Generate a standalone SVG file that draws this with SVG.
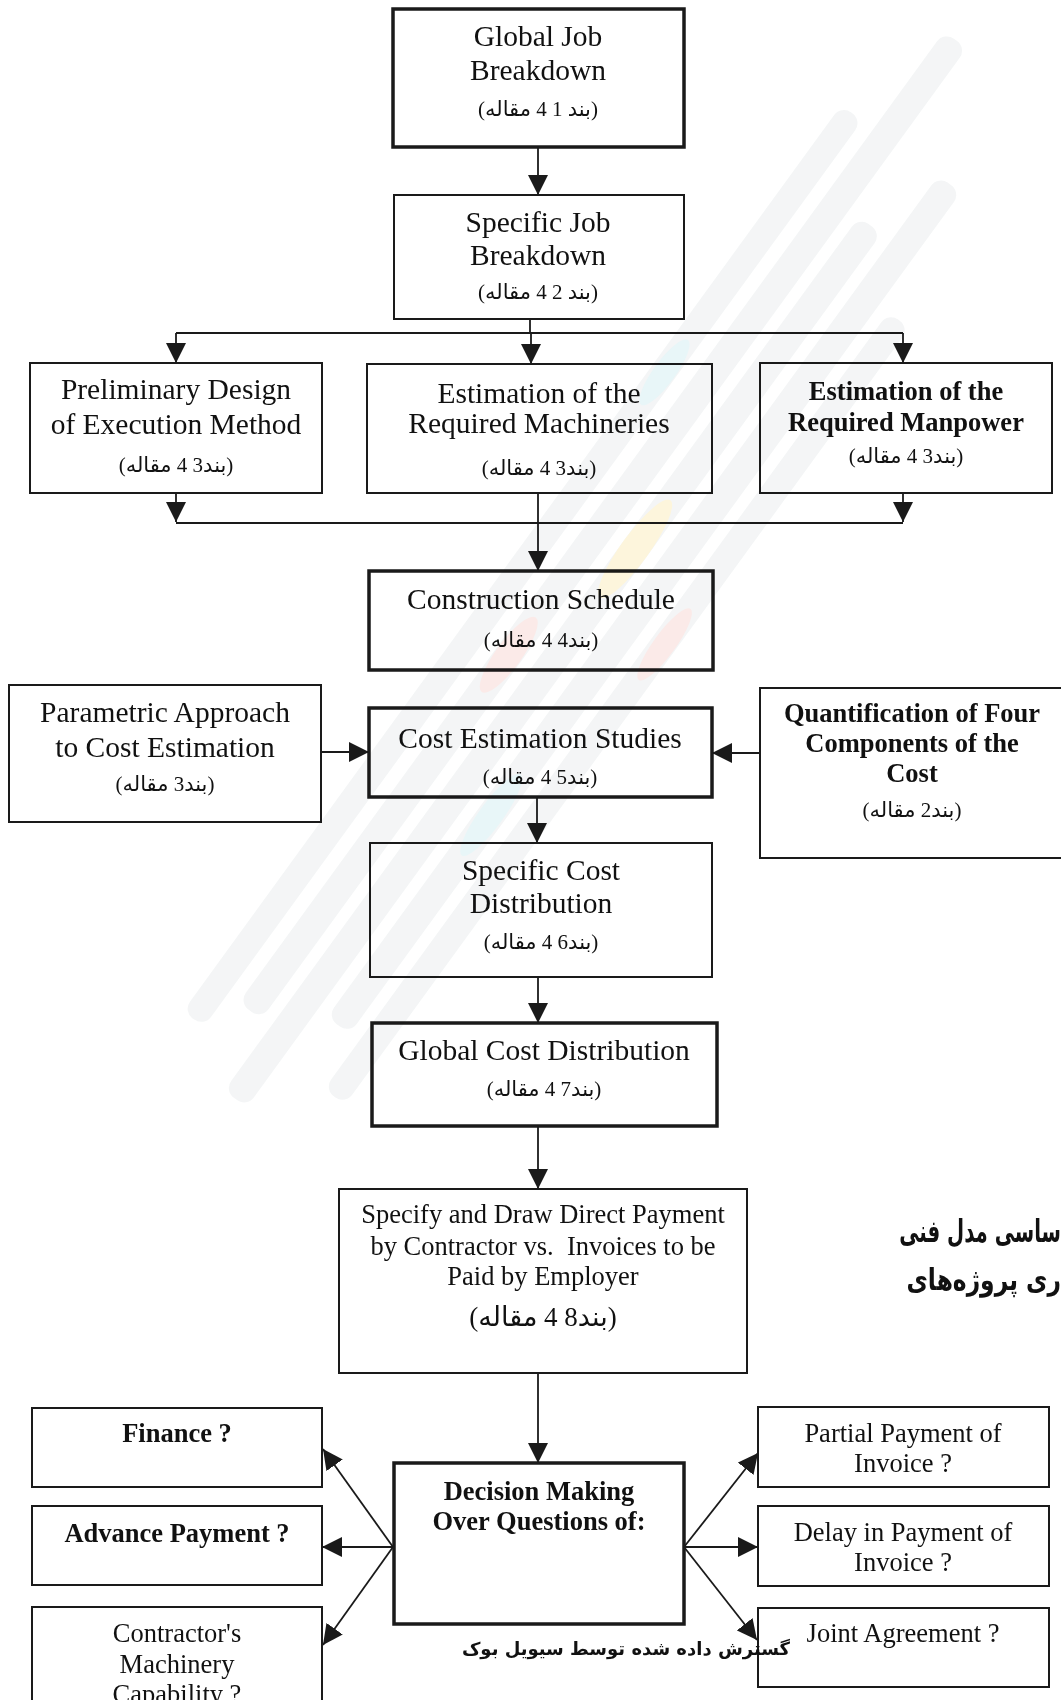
<svg xmlns="http://www.w3.org/2000/svg" width="1061" height="1700" viewBox="0 0 1061 1700">
  <style>
    .box { fill: #ffffff; stroke: #1a1a1a; stroke-width: 2; }
    .thick { stroke-width: 3.5; }
    .t { font-family: "Liberation Serif", "Times New Roman", serif; font-size: 29.5px; fill: #111; text-anchor: middle; }
    .s { font-size: 26.5px; }
    .b { font-weight: bold; }
    .fa { font-family: "Liberation Serif", "DejaVu Sans", serif; font-size: 21px; fill: #111; text-anchor: middle; }
    .fa-l { font-size: 27px; }
    .wire { fill: none; stroke: #1a1a1a; stroke-width: 1.8; }
    .arrow { marker-end: url(#head); }
    .note { font-family: "DejaVu Sans", sans-serif; fill: #111; }
    .pencil { fill: #eceff0; }
  </style>
  <defs>
    <marker id="head" viewBox="0 0 20 20" refX="20" refY="10" markerWidth="20" markerHeight="20" markerUnits="userSpaceOnUse" orient="auto">
      <path d="M0,0 L20,10 L0,20 Z" fill="#1a1a1a"/>
    </marker>
  </defs>
  <rect width="1061" height="1700" fill="#ffffff"/>

  <!-- connectors -->
  <g id="connectors">
    <line class="wire arrow" x1="538" y1="147" x2="538" y2="195"/>
    <line class="wire" x1="530" y1="319" x2="530" y2="333"/>
    <line class="wire" x1="176" y1="333" x2="903" y2="333"/>
    <line class="wire arrow" x1="176" y1="333" x2="176" y2="363"/>
    <line class="wire arrow" x1="531" y1="333" x2="531" y2="364"/>
    <line class="wire arrow" x1="903" y1="333" x2="903" y2="363"/>
    <line class="wire arrow" x1="176" y1="493" x2="176" y2="522"/>
    <line class="wire arrow" x1="903" y1="493" x2="903" y2="522"/>
    <line class="wire" x1="176" y1="523" x2="903" y2="523"/>
    <line class="wire arrow" x1="538" y1="493" x2="538" y2="571"/>
    <line class="wire arrow" x1="321" y1="752" x2="369" y2="752"/>
    <line class="wire arrow" x1="760" y1="753" x2="712" y2="753"/>
    <line class="wire arrow" x1="537" y1="797" x2="537" y2="843"/>
    <line class="wire arrow" x1="538" y1="977" x2="538" y2="1023"/>
    <line class="wire arrow" x1="538" y1="1126" x2="538" y2="1189"/>
    <line class="wire arrow" x1="538" y1="1373" x2="538" y2="1463"/>
    <line class="wire arrow" x1="393" y1="1547" x2="323" y2="1449"/>
    <line class="wire arrow" x1="393" y1="1547" x2="322" y2="1547"/>
    <line class="wire arrow" x1="393" y1="1547" x2="323" y2="1645"/>
    <line class="wire arrow" x1="684" y1="1547" x2="758" y2="1453"/>
    <line class="wire arrow" x1="684" y1="1547" x2="758" y2="1547"/>
    <line class="wire arrow" x1="684" y1="1547" x2="757" y2="1640"/>
  </g>

  <g id="global-job">
    <rect class="box thick" x="393" y="9" width="291" height="138"/>
    <text class="t" x="538" y="46">Global Job</text>
    <text class="t" x="538" y="80">Breakdown</text>
    <text class="fa" x="538" y="116">(بند 1 4 مقاله)</text>
  </g>
  <g id="specific-job">
    <rect class="box" x="394" y="195" width="290" height="124"/>
    <text class="t" x="538" y="232">Specific Job</text>
    <text class="t" x="538" y="265">Breakdown</text>
    <text class="fa" x="538" y="299">(بند 2 4 مقاله)</text>
  </g>
  <g id="preliminary-design">
    <rect class="box" x="30" y="363" width="292" height="130"/>
    <text class="t" x="176" y="399">Preliminary Design</text>
    <text class="t" x="176" y="434">of Execution Method</text>
    <text class="fa" x="176" y="472">(بند3 4 مقاله)</text>
  </g>
  <g id="machineries">
    <rect class="box" x="367" y="364" width="345" height="129"/>
    <text class="t" x="539" y="403">Estimation of the</text>
    <text class="t" x="539" y="433">Required Machineries</text>
    <text class="fa" x="539" y="475">(بند3 4 مقاله)</text>
  </g>
  <g id="manpower">
    <rect class="box" x="760" y="363" width="292" height="130"/>
    <text class="t s b" x="906" y="400">Estimation of the</text>
    <text class="t s b" x="906" y="431">Required Manpower</text>
    <text class="fa" x="906" y="463">(بند3 4 مقاله)</text>
  </g>
  <g id="construction-schedule">
    <rect class="box thick" x="369" y="571" width="344" height="99"/>
    <text class="t" x="541" y="609">Construction Schedule</text>
    <text class="fa" x="541" y="647">(بند4 4 مقاله)</text>
  </g>
  <g id="parametric-approach">
    <rect class="box" x="9" y="685" width="312" height="137"/>
    <text class="t" x="165" y="722">Parametric Approach</text>
    <text class="t" x="165" y="757">to Cost Estimation</text>
    <text class="fa" x="165" y="791">(بند3 مقاله)</text>
  </g>
  <g id="cost-studies">
    <rect class="box thick" x="369" y="708" width="343" height="89"/>
    <text class="t" x="540" y="748">Cost Estimation Studies</text>
    <text class="fa" x="540" y="784">(بند5 4 مقاله)</text>
  </g>
  <g id="quantification">
    <rect class="box" x="760" y="688" width="303" height="170"/>
    <text class="t s b" x="912" y="722">Quantification of Four</text>
    <text class="t s b" x="912" y="752">Components of the</text>
    <text class="t s b" x="912" y="782">Cost</text>
    <text class="fa" x="912" y="817">(بند2 مقاله)</text>
  </g>
  <g id="specific-cost">
    <rect class="box" x="370" y="843" width="342" height="134"/>
    <text class="t" x="541" y="880">Specific Cost</text>
    <text class="t" x="541" y="913">Distribution</text>
    <text class="fa" x="541" y="949">(بند6 4 مقاله)</text>
  </g>
  <g id="global-cost">
    <rect class="box thick" x="372" y="1023" width="345" height="103"/>
    <text class="t" x="544" y="1060">Global Cost Distribution</text>
    <text class="fa" x="544" y="1096">(بند7 4 مقاله)</text>
  </g>
  <g id="direct-payment">
    <rect class="box" x="339" y="1189" width="408" height="184"/>
    <text class="t s" x="543" y="1223">Specify and Draw Direct Payment</text>
    <text class="t s" x="543" y="1255" xml:space="preserve">by Contractor vs.  Invoices to be</text>
    <text class="t s" x="543" y="1285">Paid by Employer</text>
    <text class="fa fa-l" x="543" y="1326">(بند8 4 مقاله)</text>
  </g>
  <g id="decision-making">
    <rect class="box thick" x="394" y="1463" width="290" height="161"/>
    <text class="t s b" x="539" y="1500">Decision Making</text>
    <text class="t s b" x="539" y="1530">Over Questions of:</text>
  </g>
  <g id="finance">
    <rect class="box" x="32" y="1408" width="290" height="79"/>
    <text class="t s b" x="177" y="1442">Finance ?</text>
  </g>
  <g id="advance-payment">
    <rect class="box" x="32" y="1506" width="290" height="79"/>
    <text class="t s b" x="177" y="1542">Advance Payment ?</text>
  </g>
  <g id="machinery-capability">
    <rect class="box" x="32" y="1607" width="290" height="100"/>
    <text class="t s" x="177" y="1642">Contractor's</text>
    <text class="t s" x="177" y="1673">Machinery</text>
    <text class="t s" x="177" y="1703">Capability ?</text>
  </g>
  <g id="partial-payment">
    <rect class="box" x="758" y="1407" width="291" height="80"/>
    <text class="t s" x="903" y="1442">Partial Payment of</text>
    <text class="t s" x="903" y="1472">Invoice ?</text>
  </g>
  <g id="payment-delay">
    <rect class="box" x="758" y="1506" width="291" height="80"/>
    <text class="t s" x="903" y="1541">Delay in Payment of</text>
    <text class="t s" x="903" y="1571">Invoice ?</text>
  </g>
  <g id="joint-agreement">
    <rect class="box" x="758" y="1608" width="291" height="79"/>
    <text class="t s" x="903" y="1642">Joint Agreement ?</text>
  </g>

  <!-- faint diagonal pencil watermark, blended over the page -->
  <g id="watermark" style="mix-blend-mode: multiply" opacity="0.6" transform="translate(610,580) rotate(-54)">
    <rect class="pencil" x="-600" y="-92" width="1120" height="26" rx="12"/>
    <rect class="pencil" x="-560" y="-52" width="1200" height="28" rx="12"/>
    <rect class="pencil" x="-640" y="-12" width="1080" height="28" rx="12"/>
    <rect class="pencil" x="-520" y="28" width="1040" height="28" rx="12"/>
    <rect class="pencil" x="-580" y="68" width="960" height="26" rx="12"/>
    <ellipse cx="-120" cy="-38" rx="46" ry="13" fill="#f8dcd9"/>
    <ellipse cx="40" cy="2" rx="60" ry="14" fill="#fcefc4"/>
    <ellipse cx="-260" cy="42" rx="50" ry="12" fill="#d9f0f3"/>
    <ellipse cx="200" cy="-78" rx="40" ry="11" fill="#d9f0f3"/>
    <ellipse cx="-20" cy="82" rx="44" ry="11" fill="#f8dcd9"/>
  </g>

  <!-- page heading fragments and credit line -->
  <text class="note" transform="translate(1061,1242) scale(0.76,1.2)" x="0" y="0" font-size="26" font-weight="bold" text-anchor="end">ساسی مدل فنی</text>
  <text class="note" transform="translate(1061,1290) scale(0.9,1.15)" x="0" y="0" font-size="26" font-weight="bold" text-anchor="end">ری پروژه‌های</text>
  <text class="note" x="626" y="1655" font-size="18" font-weight="bold" text-anchor="middle">گسترش داده شده توسط سیویل بوک</text>
</svg>
